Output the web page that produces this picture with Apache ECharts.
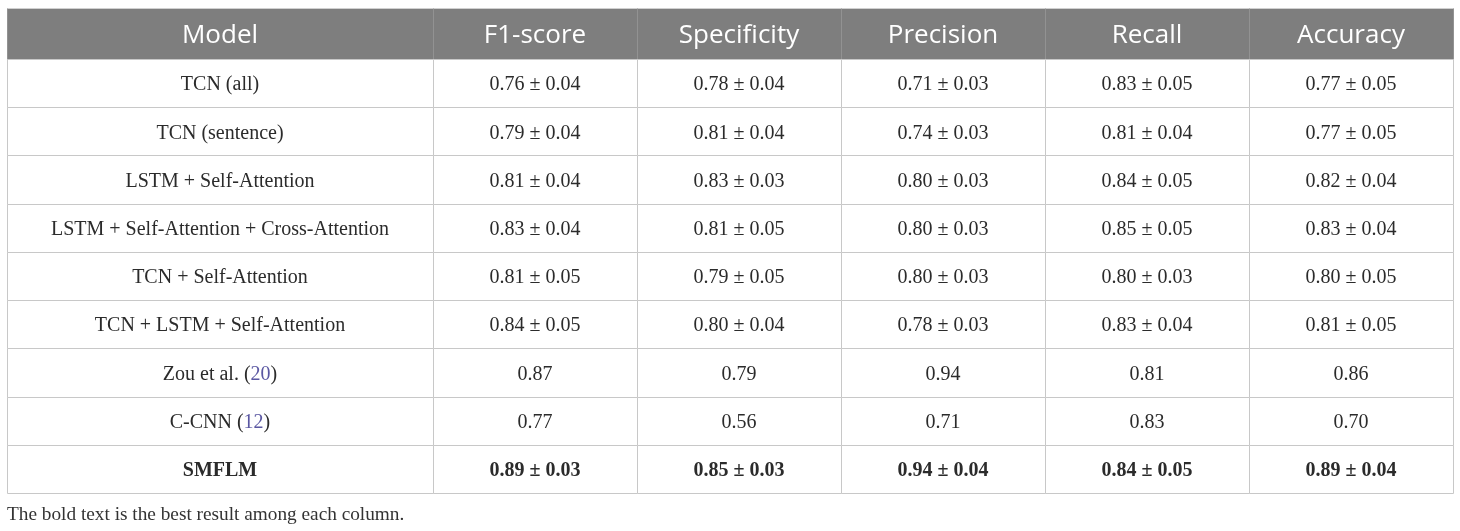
<!DOCTYPE html>
<html>
<head>
<meta charset="utf-8">
<script src="https://cdn.jsdelivr.net/npm/echarts@6/dist/echarts.min.js"></script>
<style>
  html, body { margin: 0; padding: 0; background: #fff; }
  #main { width: 1460px; height: 531px; }
</style>
</head>
<body>
<div id="main"></div>
<script>
// table content
const headerModel = 'Model';
const metrics = ['F1-score', 'Specificity', 'Precision', 'Recall', 'Accuracy'];
const models = ['TCN (all)', 'TCN (sentence)', 'LSTM + Self-Attention',
  'LSTM + Self-Attention + Cross-Attention', 'TCN + Self-Attention',
  'TCN + LSTM + Self-Attention', 'Zou et al.', 'C-CNN', 'SMFLM'];
const modelRefs = [null, null, null, null, null, null, 20, 12, null];
const f1Mean   = [0.76, 0.79, 0.81, 0.83, 0.81, 0.84, 0.87, 0.77, 0.89];
const f1Std    = [0.04, 0.04, 0.04, 0.04, 0.05, 0.05, null, null, 0.03];
const specMean = [0.78, 0.81, 0.83, 0.81, 0.79, 0.80, 0.79, 0.56, 0.85];
const specStd  = [0.04, 0.04, 0.03, 0.05, 0.05, 0.04, null, null, 0.03];
const precMean = [0.71, 0.74, 0.80, 0.80, 0.80, 0.78, 0.94, 0.71, 0.94];
const precStd  = [0.03, 0.03, 0.03, 0.03, 0.03, 0.03, null, null, 0.04];
const recMean  = [0.83, 0.81, 0.84, 0.85, 0.80, 0.83, 0.81, 0.83, 0.84];
const recStd   = [0.05, 0.04, 0.05, 0.05, 0.03, 0.04, null, null, 0.05];
const accMean  = [0.77, 0.77, 0.82, 0.83, 0.80, 0.81, 0.86, 0.70, 0.89];
const accStd   = [0.05, 0.05, 0.04, 0.04, 0.05, 0.05, null, null, 0.04];
const boldModel = 'SMFLM';
const footnote = 'The bold text is the best result among each column.';

const means = [f1Mean, specMean, precMean, recMean, accMean];
const stds = [f1Std, specStd, precStd, recStd, accStd];

const SERIF = '"Liberation Serif", "DejaVu Serif", serif';
const SANS = '"Open Sans", "Noto Sans", sans-serif';
const TEXT = '#2b2b2b';
const LINE = '#c8c8c8';
const LINK = '#5a57a2';

function fmt(m, s) {
  return s == null ? m.toFixed(2) : m.toFixed(2) + ' \u00b1 ' + s.toFixed(2);
}

// cell shape, snapped so the 1px borders stay crisp
function cellRect(api, x, y) {
  const c = api.coord([x, y]);
  const sz = api.size([1, 1]);
  const x0 = Math.round(c[0] - sz[0] / 2) + 0.5;
  const y0 = Math.round(c[1] - sz[1] / 2) + 0.5;
  const x1 = Math.round(c[0] + sz[0] / 2) + 0.5;
  const y1 = Math.round(c[1] + sz[1] / 2) + 0.5;
  return { x: x0, y: y0, width: x1 - x0, height: y1 - y0, cx: c[0], cy: c[1] };
}

function headerItem(params, api) {
  const r = cellRect(api, api.value(0), api.value(1));
  return {
    type: 'group',
    children: [
      { type: 'rect', shape: { x: r.x, y: r.y, width: r.width, height: r.height },
        style: { fill: '#7e7e7e', stroke: '#929292', lineWidth: 1 } },
      { type: 'line', shape: { x1: r.x, y1: r.y, x2: r.x + r.width, y2: r.y },
        style: { stroke: '#d0d0d0', lineWidth: 1 } },
      { type: 'text', style: {
          text: api.value(2), x: r.cx, y: r.cy + 2, align: 'center', verticalAlign: 'middle',
          fill: '#ffffff', fontFamily: SANS, fontSize: 26 } }
    ]
  };
}

function bodyItem(params, api) {
  const r = cellRect(api, api.value(0), api.value(1));
  const item = params.dataIndex;
  const d = params.seriesId === 'modelBody' ? modelBodyData[item] : metricBodyData[item];
  const bold = d.bold ? 'bold' : 'normal';
  const textEl = d.ref == null
    ? { text: d.label, fill: TEXT, fontFamily: SERIF, fontSize: 20, fontWeight: bold }
    : {
        text: '{n|' + d.label + ' (}{r|' + d.ref + '}{n|)}',
        rich: {
          n: { fill: TEXT, fontFamily: SERIF, fontSize: 20 },
          r: { fill: LINK, fontFamily: SERIF, fontSize: 20 }
        }
      };
  return {
    type: 'group',
    children: [
      { type: 'rect', shape: { x: r.x, y: r.y, width: r.width, height: r.height },
        style: { fill: '#ffffff', stroke: LINE, lineWidth: 1 } },
      { type: 'text', style: Object.assign({ x: r.cx, y: r.cy + 2, align: 'center', verticalAlign: 'middle' }, textEl) }
    ]
  };
}

const modelBodyData = models.map((m, i) => ({
  value: [0, i], label: m, ref: modelRefs[i], bold: m === boldModel
}));
const metricBodyData = [];
metrics.forEach((name, j) => {
  models.forEach((m, i) => {
    metricBodyData.push({ value: [j, i], label: fmt(means[j][i], stds[j][i]), ref: null, bold: m === boldModel });
  });
});

const hiddenCat = (data, inverse) => ({
  type: 'category', data: data, show: false, inverse: !!inverse, boundaryGap: true
});

const option = {
  animation: false,
  title: {
    text: footnote, left: 2, top: 500,
    textStyle: { fontFamily: SERIF, fontSize: 19.3, fontWeight: 'normal', color: '#333333' }
  },
  grid: [
    { left: 7, top: 8, width: 426, height: 51 },
    { left: 433, top: 8, width: 1020, height: 51 },
    { left: 7, top: 59, width: 426, height: 434 },
    { left: 433, top: 59, width: 1020, height: 434 }
  ],
  xAxis: [
    Object.assign(hiddenCat([headerModel]), { gridIndex: 0 }),
    Object.assign(hiddenCat(metrics), { gridIndex: 1 }),
    Object.assign(hiddenCat([headerModel]), { gridIndex: 2 }),
    Object.assign(hiddenCat(metrics), { gridIndex: 3 })
  ],
  yAxis: [
    Object.assign(hiddenCat(['header']), { gridIndex: 0 }),
    Object.assign(hiddenCat(['header']), { gridIndex: 1 }),
    Object.assign(hiddenCat(models, true), { gridIndex: 2 }),
    Object.assign(hiddenCat(models, true), { gridIndex: 3 })
  ],
  series: [
    { type: 'custom', id: 'modelHead', xAxisIndex: 0, yAxisIndex: 0, renderItem: headerItem,
      data: [[0, 0, headerModel]] },
    { type: 'custom', id: 'metricHead', xAxisIndex: 1, yAxisIndex: 1, renderItem: headerItem,
      data: metrics.map((m, j) => [j, 0, m]) },
    { type: 'custom', id: 'modelBody', xAxisIndex: 2, yAxisIndex: 2, renderItem: bodyItem,
      data: modelBodyData.map(d => d.value) },
    { type: 'custom', id: 'metricBody', xAxisIndex: 3, yAxisIndex: 3, renderItem: bodyItem,
      data: metricBodyData.map(d => d.value) }
  ]
};

const myChart = echarts.init(document.getElementById('main'));
option && myChart.setOption(option);
</script>
</body>
</html>
